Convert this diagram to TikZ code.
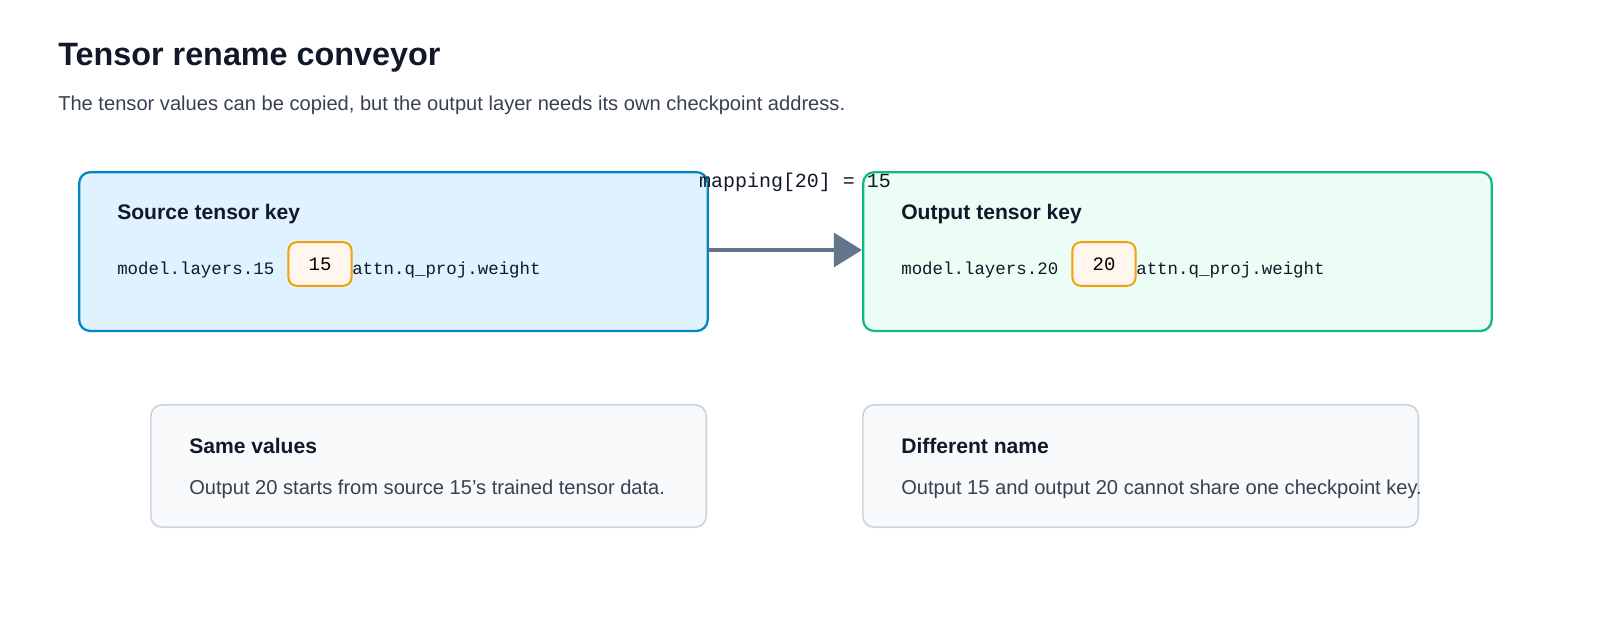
\documentclass[tikz,border=0pt]{standalone}
\usepackage{fontspec}
\setmainfont{Liberation Sans}
\setmonofont{Liberation Mono}
\usetikzlibrary{arrows.meta, positioning}
\definecolor{ink}{HTML}{111827}
\definecolor{muted}{HTML}{374151}
\definecolor{srcline}{HTML}{0284C7}
\definecolor{srcfill}{HTML}{E0F2FE}
\definecolor{outline}{HTML}{10B981}
\definecolor{outfill}{HTML}{ECFDF5}
\definecolor{badgeline}{HTML}{F59E0B}
\definecolor{badgefill}{HTML}{FFF7ED}
\definecolor{noteline}{HTML}{CBD5E1}
\definecolor{notefill}{HTML}{F8FAFC}
\definecolor{slate}{HTML}{64748B}
\tikzset{
  keybox/.style={draw, line width=1.6pt, rounded corners=8pt, minimum height=113pt},
  notebox/.style={draw=noteline, fill=notefill, line width=1.2pt, rounded corners=8pt, minimum height=87pt},
  badge/.style={draw=badgeline, fill=badgefill, line width=1.4pt, rounded corners=6pt, minimum width=45pt, minimum height=31pt, font=\ttfamily\fontsize{13.5}{15}\selectfont},
  head/.style={anchor=base west, font=\bfseries\fontsize{15}{18}\selectfont, text=ink},
  mono/.style={anchor=base west, font=\ttfamily\fontsize{12.4}{16}\selectfont, text=ink, inner sep=0pt},
  body/.style={anchor=base west, font=\fontsize{14.3}{18}\selectfont, text=muted, inner sep=0pt}
}
\begin{document}
\begin{tikzpicture}[x=0.025cm, y=-0.025cm]
\useasboundingbox (0,0) rectangle (1600,626);
% heading
\node[anchor=base west, inner sep=0pt, font=\bfseries\fontsize{23}{28}\selectfont, text=ink] (title) at (58,65) {Tensor rename conveyor};
\node[body] (subtitle) at (58,110) {The tensor values can be copied, but the output layer needs its own checkpoint address.};
% key boxes
\node[keybox, draw=srcline, fill=srcfill, minimum width=447pt, anchor=north west] (src) at (78,171) {};
\node[keybox, draw=outline, fill=outfill, minimum width=447pt, anchor=north west] (out) at (862,171) {};
\node[head, inner sep=0pt] (srchead) at (117,219) {Source tensor key};
\node[head, inner sep=0pt] (outhead) at (901,219) {Output tensor key};
\node[mono] (srckey) at (117,274) {model.layers.15};
\node[badge] (srcnum) at (320,264) {15};
\node[mono] (srcrest) at (352,274) {attn.q\_proj.weight};
\node[mono] (outkey) at (901,274) {model.layers.20};
\node[badge] (outnum) at (1104,264) {20};
\node[mono] (outrest) at (1136,274) {attn.q\_proj.weight};
% conveyor arrow
\draw[slate, line width=3pt, -{Triangle[length=20pt, width=24pt]}] (src.east |- 0,250) -- (out.west |- 0,250);
\node[font=\ttfamily\fontsize{14.2}{17}\selectfont, text=ink, inner sep=0pt] (map) at (795,182) {mapping[20] = 15};
% notes
\node[notebox, minimum width=395pt, anchor=north west] (same) at (150,404) {};
\node[notebox, minimum width=395pt, anchor=north west] (diff) at (862,404) {};
\node[head, inner sep=0pt] (samehead) at (189,453) {Same values};
\node[body] (sametext) at (189,494) {Output 20 starts from source 15's trained tensor data.};
\node[head, inner sep=0pt] (diffhead) at (901,453) {Different name};
\node[body] (difftext) at (901,494) {Output 15 and output 20 cannot share one checkpoint key.};
\end{tikzpicture}
\end{document}
